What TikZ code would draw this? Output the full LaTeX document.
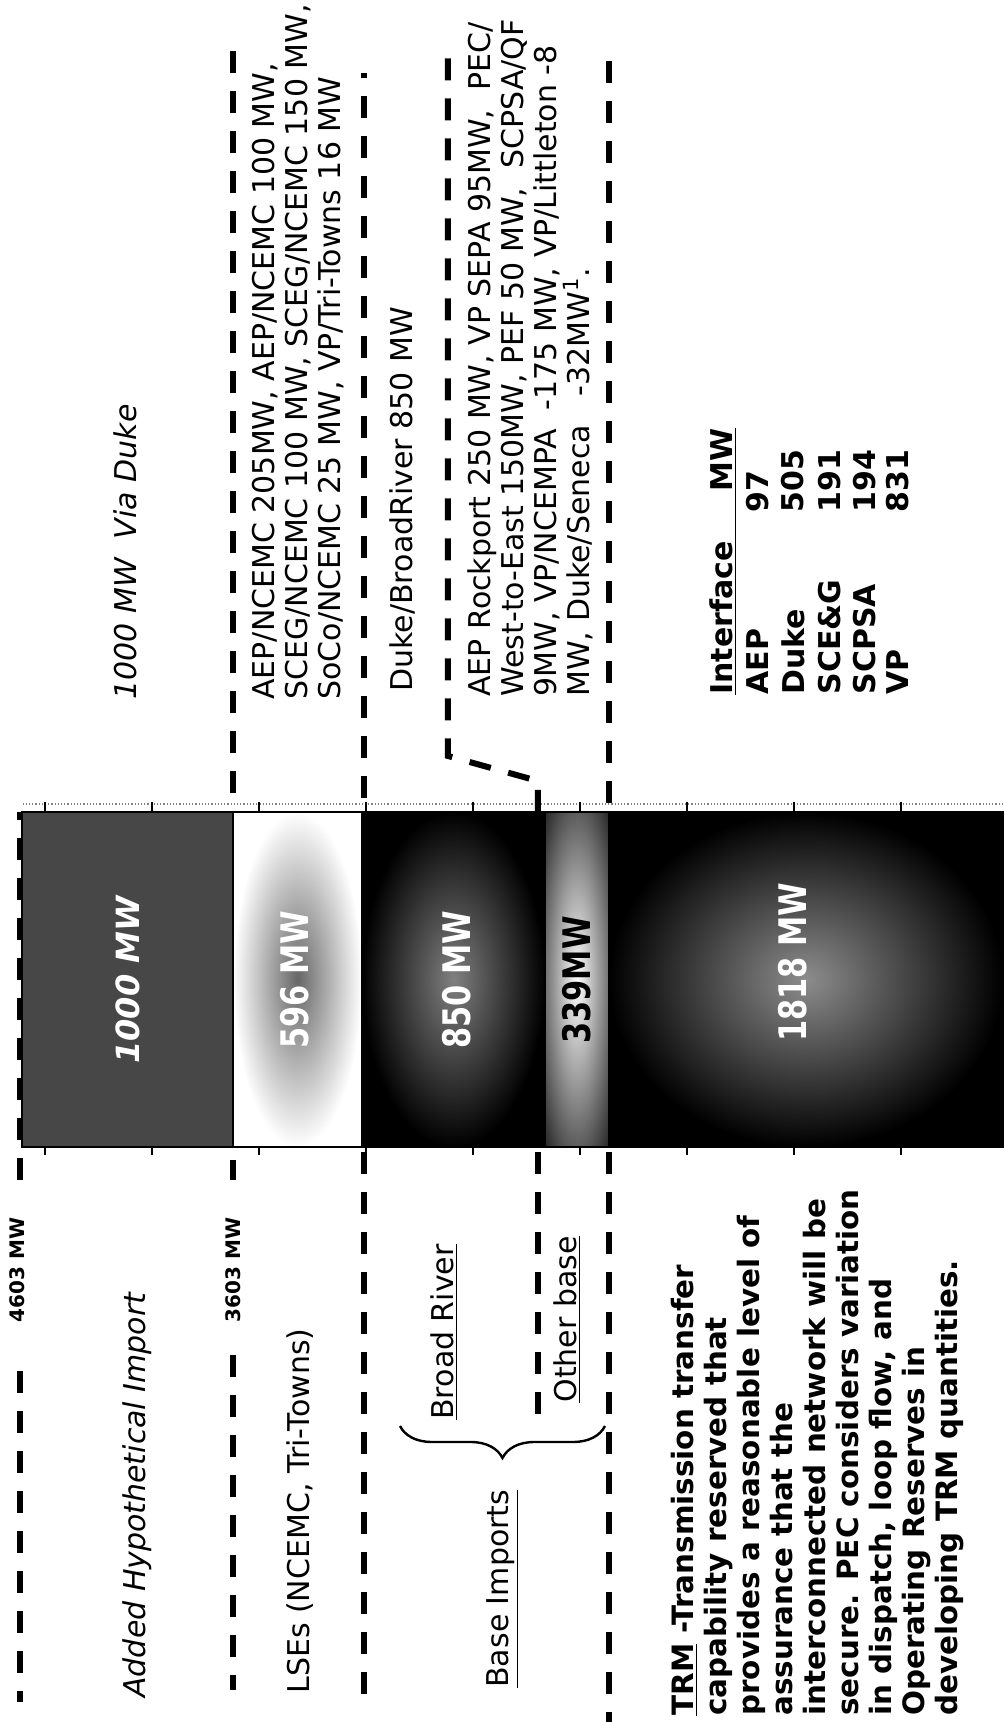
\documentclass[tikz,border=0pt]{standalone}
\usepackage{fontspec}
\setmainfont{DejaVu Sans}
\newfontfamily\barfont[FakeStretch=0.8]{DejaVu Sans}
\usepackage{tikz}
\usetikzlibrary{decorations.pathreplacing}

\begin{document}
\begin{tikzpicture}[x=0.5pt,y=0.5pt,
  levelline/.style={line width=3pt,dash pattern=on 11pt off 9pt},
  txt/.style={anchor=west,inner sep=0pt,align=left,font=\fontsize{15pt}{16.5pt}\selectfont},
  trmtxt/.style={anchor=west,inner sep=0pt,align=left,font=\fontsize{14.7pt}{16.5pt}\selectfont\bfseries},
  tbl/.style={anchor=west,inner sep=0pt,font=\fontsize{15pt}{16.5pt}\selectfont\bfseries},
  lvl/.style={inner sep=0pt,font=\fontsize{10pt}{12pt}\selectfont\bfseries},
  mwlabel/.style={inner sep=0pt,font=\barfont\bfseries\fontsize{19pt}{19pt}\selectfont}]
\begin{scope}[rotate=90,transform shape]
\useasboundingbox (0,0) rectangle (1722,1005);

\fill[white] (0,0) rectangle (1722,1005);
\fill[black!72] (575,772) rectangle (910,983);
\shade[inner color=black!60,outer color=white] (575,643) rectangle (910,772);
\shade[inner color=black!50,outer color=black] (575,460) rectangle (910,643);
\begin{scope}
\clip (575,396) rectangle (910,460);
\fill[black!85] (575,396) rectangle (910,460);
\shade[inner color=white,outer color=black!85] (520,380) rectangle (965,476);
\end{scope}
\shade[inner color=black!45,outer color=black] (575,2) rectangle (910,396);
\draw[line width=1pt] (575,2) rectangle (910,983);
\draw[line width=1pt] (575,772) -- (910,772);
\draw[line width=1pt] (575,643) -- (910,643);
\draw[line width=1pt] (575,460) -- (910,460);
\draw[line width=1pt] (575,396) -- (910,396);
\draw[black!50,densely dotted,line width=0.6pt] (918,2) -- (918,983);

\draw[line width=1pt] (910,960) -- (920,960);
\draw[line width=1pt] (910,853) -- (920,853);
\draw[line width=1pt] (910,746) -- (920,746);
\draw[line width=1pt] (910,639) -- (920,639);
\draw[line width=1pt] (910,532) -- (920,532);
\draw[line width=1pt] (910,425) -- (920,425);
\draw[line width=1pt] (910,318) -- (920,318);
\draw[line width=1pt] (910,211) -- (920,211);
\draw[line width=1pt] (910,104) -- (920,104);
\draw[line width=1pt] (575,960) -- (567,960);
\draw[line width=1pt] (575,853) -- (567,853);
\draw[line width=1pt] (575,746) -- (567,746);
\draw[line width=1pt] (575,639) -- (567,639);
\draw[line width=1pt] (575,532) -- (567,532);
\draw[line width=1pt] (575,425) -- (567,425);
\draw[line width=1pt] (575,318) -- (567,318);
\draw[line width=1pt] (575,211) -- (567,211);
\draw[line width=1pt] (575,104) -- (567,104);

\node[white,inner sep=0pt,font=\bfseries\itshape\fontsize{16pt}{16pt}\selectfont] (mw1000) at (742,877) {1000 MW};
\node[mwlabel,white] (mw596) at (742,710) {596 MW};
\node[mwlabel,white] (mw850) at (742,548) {850 MW};
\node[mwlabel,black] (mw339) at (742,428) {339MW};
\node[mwlabel,white] (mw1818) at (760,212) {1818 MW};

\draw[levelline] (351,985) -- (20,985);
\draw[levelline] (542,985) -- (910,985);
\node[lvl] (lvl4603) at (452,988) {4603 MW};
\draw[levelline] (367,772) -- (32,772);
\draw[levelline] (542,772) -- (562,772);
\node[lvl] (lvl3603) at (452,772) {3603 MW};
\draw[levelline] (929,772) -- (1674,772);
\draw[levelline] (570,641) -- (11,641);
\draw[levelline] (924,641) -- (1649,641);
\draw[levelline] (570,467) -- (296,467);
\draw[levelline] (910,467) -- (941,467) -- (966,557) -- (1677,557);
\draw[levelline] (570,396) -- (0,396);
\draw[levelline] (919,396) -- (1672,396);

\node[txt] (added) at (24,868) {\itshape Added Hypothetical Import};
\node[txt] (lse) at (28,705) {LSEs (NCEMC, Tri-Towns)};
\node[txt] (broad) at (302,561) {\underline{Broad River}};
\node[txt] (other) at (319,438) {\underline{Other base}};
\node[txt] (baseimp) at (34,502) {\underline{Base Imports}};
\draw[decorate,decoration={brace,amplitude=16pt},line width=1.2pt] (296,400) -- (296,605);
\node[trmtxt] (trm) at (6,187) {\underline{TRM} -Transmission transfer\\
capability reserved that\\
provides a reasonable level of\\
assurance that the\\
interconnected network will be\\
secure. PEC considers variation\\
in dispatch, loop flow, and\\
Operating Reserves in\\
developing TRM quantities.};

\node[txt] (viaduke) at (1022,880) {\itshape 1000 MW\ \ Via Duke};
\node[txt] (lsedet) at (1022,707) {AEP/NCEMC 205MW, AEP/NCEMC 100 MW,\\
SCEG/NCEMC 100 MW, SCEG/NCEMC 150 MW,\\
SoCo/NCEMC 25 MW, VP/Tri-Towns 16 MW};
\node[txt] (brdet) at (1030,602) {Duke/BroadRiver 850 MW};
\node[txt] (othdet) at (1025,475) {AEP Rockport 250 MW, VP SEPA 95MW,\ \ PEC/\\
West-to-East 150MW, PEF 50 MW,\ \ SCPSA/QF\\
9MW, VP/NCEMPA\ \ -175 MW, VP/Littleton -8\\
MW, Duke/Seneca\ \ \ -32MW\textsuperscript{1}.};

\node[tbl] (ifhead) at (1027,282) {\underline{Interface\hspace{25pt}MW}};
\node[tbl] (ifaep) at (1027,247) {AEP};
\node[tbl] (ifduke) at (1027,212) {Duke};
\node[tbl] (ifsceg) at (1027,175) {SCE\&G};
\node[tbl] (ifscpsa) at (1027,140) {SCPSA};
\node[tbl] (ifvp) at (1027,107) {VP};
\node[tbl] (mwaep) at (1209,247) {97};
\node[tbl] (mwduke) at (1209,212) {505};
\node[tbl] (mwsceg) at (1209,175) {191};
\node[tbl] (mwscpsa) at (1209,140) {194};
\node[tbl] (mwvp) at (1209,107) {831};
\end{scope}
\end{tikzpicture}
\end{document}
